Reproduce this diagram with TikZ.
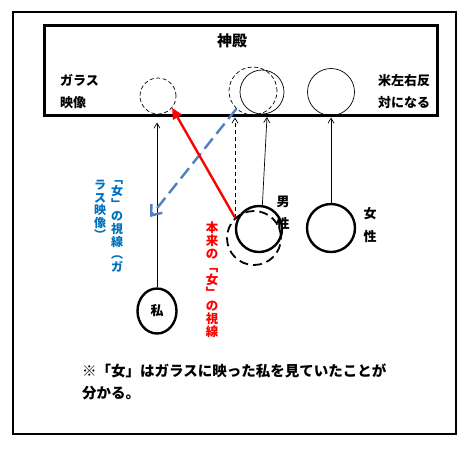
\documentclass[tikz,border=0pt]{standalone}
\usepackage{fontspec}
\setmainfont{Noto Sans CJK JP}
\usetikzlibrary{shapes.geometric, arrows.meta, positioning, calc}
\definecolor{glassblue}{HTML}{4F81BD}
\definecolor{labelblue}{HTML}{0070C0}
\definecolor{sightred}{HTML}{FF0000}

\begin{document}
\begin{tikzpicture}[x=1pt, y=-1pt,
  ring/.style={circle, draw, line width=2.4pt, inner sep=0pt},
  imgring/.style={circle, draw, line width=0.7pt, dash pattern=on 4pt off 2.5pt, inner sep=0pt},
  thinring/.style={circle, draw, line width=0.7pt, inner sep=0pt},
  label/.style={font=\fontsize{13}{22}\selectfont\bfseries, inner sep=0pt, align=left},
  tate/.style={font=\fontsize{12}{12.6}\selectfont\bfseries, inner sep=0pt, align=center, anchor=north},
  pointer/.style={line width=0.7pt, -{Straight Barb[length=5pt,width=6pt]}}]
\useasboundingbox (0,0) rectangle (471,448);
% outer frame and temple
\draw[line width=2pt] (13,12) rectangle (456,434);
\node[draw, line width=3pt, minimum width=393pt, minimum height=90pt, inner sep=0pt] (shinden) at (240.5,70) {};
\node[font=\fontsize{15}{15}\selectfont\bfseries] (shindentext) at (232,41) {神殿};
\node[label, anchor=west] (glass) at (60,92) {ガラス\\映像};
\node[label, anchor=west] (mirror) at (378,92) {米左右反\\対になる};

% images in the glass
\node[imgring, minimum size=36pt] (imgme) at (158,96) {};
\node[imgring, minimum size=48pt] (imgman) at (253,91) {};
\node[thinring, minimum size=44pt] (manref) at (262,92) {};
\node[thinring, minimum size=47pt] (womanref) at (331,92) {};

% people
\node[ellipse, draw, line width=2.4pt, minimum width=39pt, minimum height=45pt, inner sep=0pt,
  font=\fontsize{13}{13}\selectfont\bfseries] (me) at (157,311) {私};
\node[circle, draw, line width=1.8pt, dash pattern=on 9pt off 5pt, minimum size=54pt, inner sep=0pt] (mandash) at (254,238) {};
\node[ring, minimum size=46pt] (man) at (259,229) {};
\node[ring, minimum size=48pt] (woman) at (331,228) {};
\node[label, align=center, font=\fontsize{13}{22}\selectfont\bfseries] (mantext) at (283,213) {男\\性};
\node[label, align=center, font=\fontsize{13}{23}\selectfont\bfseries] (womantext) at (370,225) {女\\性};

% sight lines
\coordinate (mantip) at (267,117);
\coordinate (blueend) at (150,217);
\draw[pointer] (me.north) -- ($(me.north |- shinden.south)+(0,6)$);
\draw[pointer, dash pattern=on 4pt off 3pt] (mandash.133) -- ($(mandash.133 |- shinden.south)+(0,1)$);
\draw[pointer] (man.82) -- (mantip);
\draw[pointer] (woman.north) -- ($(woman.north |- shinden.south)+(0,1)$);
\draw[glassblue, line width=2.4pt, dash pattern=on 13pt off 6pt, -{Straight Barb[length=9pt,width=14pt]}] (imgman.-133) -- (blueend);
\draw[sightred, line width=2.4pt, -{Triangle[length=11pt,width=10pt]}] (mandash.133) -- (imgme.-40);

% vertical labels
\node[tate, text=labelblue] (bluecol1) at (117,180) {﹁\\女\\﹂\\の\\視\\線\\︵\\ガ};
\node[tate, text=labelblue] (bluecol2) at (100,180) {ラ\\ス\\映\\像\\︶};
\node[tate, text=sightred, font=\fontsize{12.5}{12.9}\selectfont\bfseries] (redcol) at (212,222) {本\\来\\の\\﹁\\女\\﹂\\の\\視\\線};

% note
\node[label, font=\fontsize{14.5}{22}\selectfont\bfseries] (note) at (82,382) [anchor=west] {※「女」はガラスに映った私を見ていたことが\\分かる。};
\end{tikzpicture}
\end{document}
